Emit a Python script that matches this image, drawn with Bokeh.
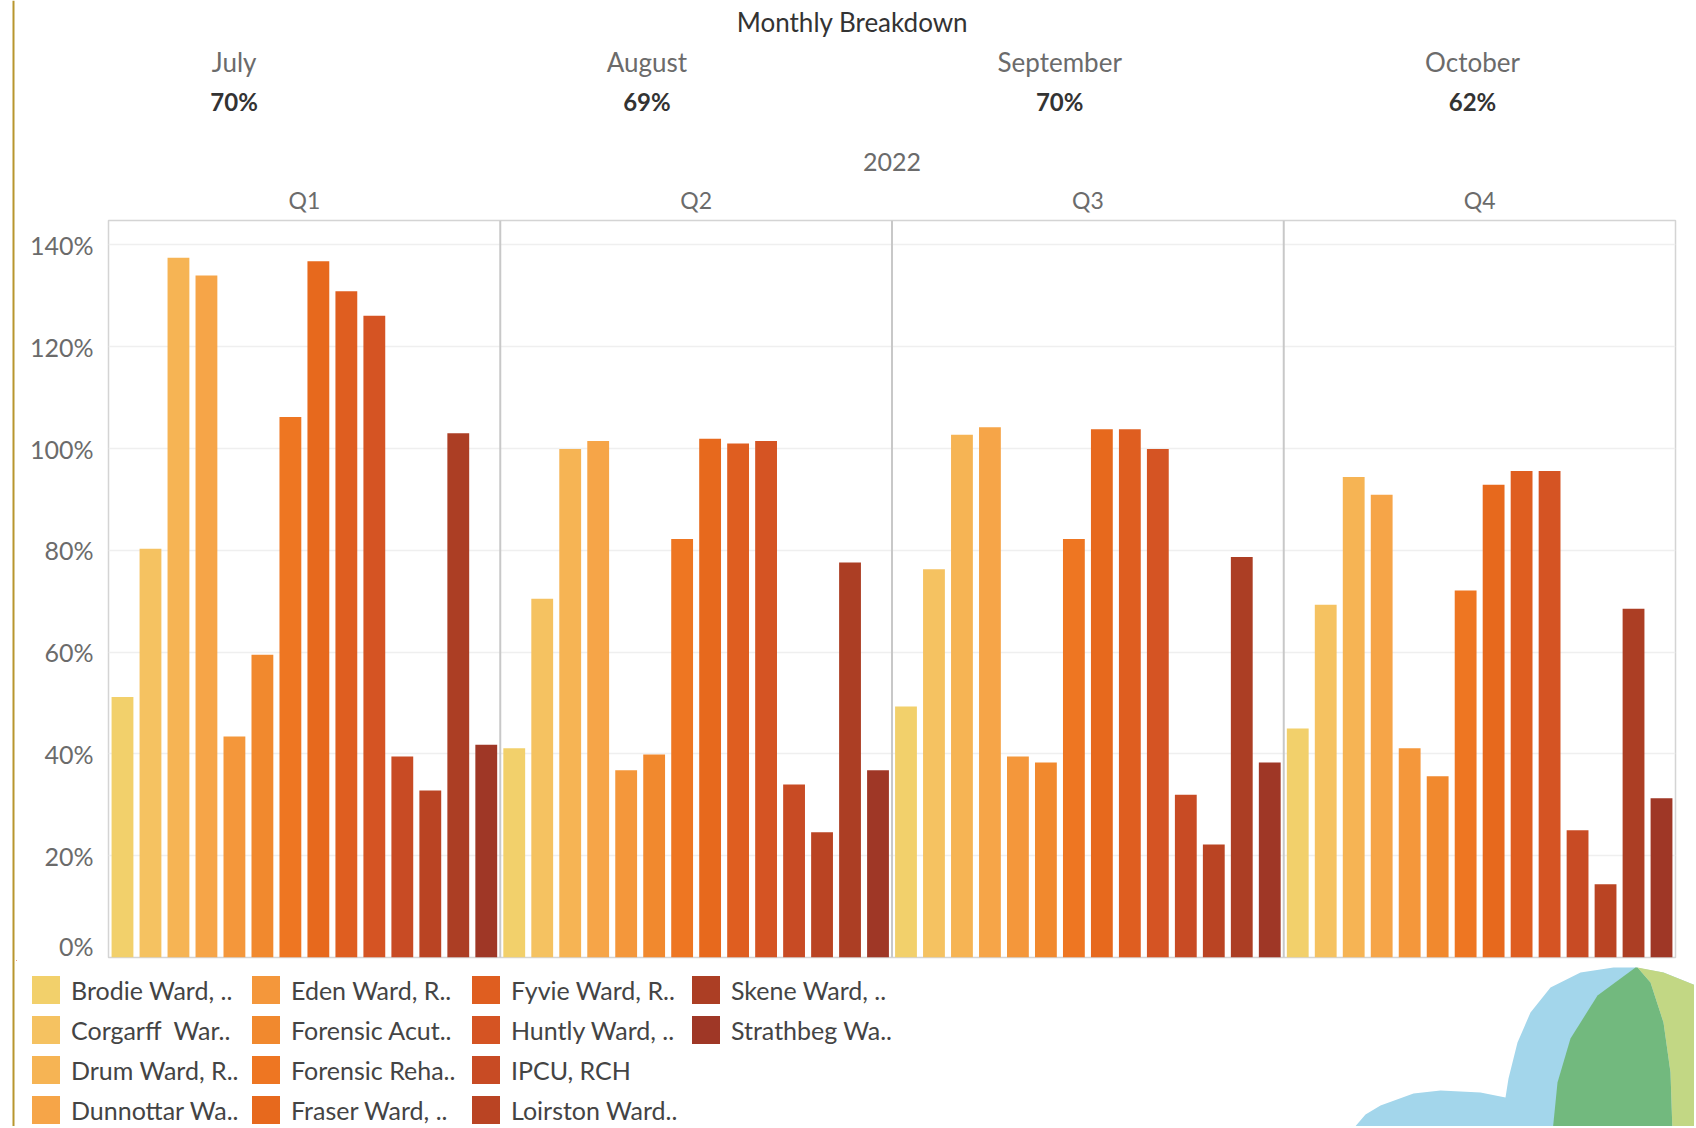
from bokeh.plotting import figure
from bokeh.layouts import row, column
from bokeh.models import (ColumnDataSource, FixedTicker, Span, Legend, LegendItem,
                          PrintfTickFormatter, Range1d)
from bokeh.core.properties import value
from bokeh.embed import file_html
from bokeh.resources import INLINE

# ---------------- data ----------------
quarters = ["Q1", "Q2", "Q3", "Q4"]
wards = ["Brodie Ward, ..", "Corgarff  War..", "Drum Ward, R..", "Dunnottar Wa..",
         "Eden Ward, R..", "Forensic Acut..", "Forensic Reha..", "Fraser Ward, ..",
         "Fyvie Ward, R..", "Huntly Ward, ..", "IPCU, RCH", "Loirston Ward..",
         "Skene Ward, ..", "Strathbeg Wa.."]
colors = ["#F2D06B", "#F5C261", "#F6B454", "#F6A548", "#F4973B", "#F1892E", "#EE7622",
          "#E7691D", "#DF5E20", "#D55423", "#C84B24", "#BA4423", "#AC3E24", "#9F3726"]
q1 = [51.2, 80.3, 137.5, 134.0, 43.4, 59.5, 106.2, 136.8, 130.9, 126.1, 39.5, 32.8, 103.0, 41.8]
q2 = [41.1, 70.5, 99.9, 101.5, 36.8, 39.9, 82.2, 101.9, 101.0, 101.5, 34.0, 24.6, 77.6, 36.8]
q3 = [49.3, 76.3, 102.7, 104.2, 39.5, 38.3, 82.2, 103.8, 103.8, 99.9, 32.0, 22.2, 78.7, 38.3]
q4 = [45.0, 69.3, 94.4, 90.9, 41.1, 35.6, 72.1, 92.9, 95.6, 95.6, 25.0, 14.4, 68.5, 31.3]
months = ["July", "August", "September", "October"]
month_pct = ["70%", "69%", "70%", "62%"]
year_label = "2022"
title_text = "Monthly Breakdown"
y_ticks = [0, 20, 40, 60, 80, 100, 120, 140]

FONT = "Lato"
GRAY = "#6B6B6B"
DARK = "#333333"
GOLD = "#B8962E"

series = [q1, q2, q3, q4]
n = len(wards)

X0 = 16          # left strip width (page x where the column starts)
W = 1678         # width of the content column
TOTAL_H = 1126
HEAD_H = 130
MAIN_H = 830
LEG_H = TOTAL_H - HEAD_H - MAIN_H


def bare(width, height, xr, yr):
    f = figure(width=width, height=height, x_range=xr, y_range=yr,
               x_axis_type=None, y_axis_type=None, output_backend="svg",
               toolbar_location=None, min_border=0, frame_align=False)
    f.outline_line_color = None
    f.grid.visible = False
    return f


# ---------------- left gold rule ----------------
strip = bare(X0, TOTAL_H, Range1d(0, X0), Range1d(TOTAL_H, 0))
strip.add_layout(Span(location=13, dimension="height", line_color=GOLD, line_width=2))

# ---------------- header (title + monthly breakdown) ----------------
head = bare(W, HEAD_H, Range1d(X0, X0 + W), Range1d(HEAD_H, 0))
head.text(x=[852], y=[21], text=[title_text], text_align="center", text_baseline="middle",
          text_font=value(FONT), text_font_size="26px", text_color=DARK)
month_x = [233.6 + 412.8 * k for k in range(len(months))]
head.text(x=month_x, y=[61] * len(months), text=months, text_align="center",
          text_baseline="middle", text_font=value(FONT), text_font_size="26px",
          text_color=GRAY)
head.text(x=month_x, y=[101] * len(months), text=month_pct, text_align="center",
          text_baseline="middle", text_font=value(FONT), text_font_size="24px",
          text_font_style="bold", text_color=DARK)

# ---------------- main bar chart ----------------
p = figure(width=W, height=MAIN_H, x_range=Range1d(0, n * len(quarters)),
           y_range=Range1d(0, 144.8), x_axis_location="above", output_backend="svg",
           toolbar_location=None, min_border_left=108 - X0, min_border_right=X0 + W - 1675,
           min_border_top=220 - HEAD_H, min_border_bottom=3, frame_align=False)
p.outline_line_color = "#D4D4D4"
p.outline_line_width = 1.5

for i, w in enumerate(wards):
    xs = [qi * n + i + 0.5 for qi in range(len(quarters))]
    tops = [s[i] for s in series]
    p.vbar(x="x", top="top", width=0.78, bottom=0,
           source=ColumnDataSource(dict(x=xs, top=tops)),
           fill_color=colors[i], line_color=None)

for qi in range(1, len(quarters)):
    p.add_layout(Span(location=qi * n, dimension="height", line_color="#C8C8C8", line_width=2))

p.yaxis.ticker = FixedTicker(ticks=y_ticks)
p.yaxis.formatter = PrintfTickFormatter(format="%d%%")
p.yaxis.major_label_text_font = FONT
p.yaxis.major_label_text_font_size = "25px"
p.yaxis.major_label_text_color = GRAY
p.yaxis.axis_line_color = None
p.yaxis.major_tick_line_color = None
p.yaxis.minor_tick_line_color = None
p.yaxis.major_tick_out = 0
p.yaxis.major_tick_in = 0
p.yaxis.major_label_standoff = 15

centers = [qi * n + n / 2 for qi in range(len(quarters))]
p.xaxis.ticker = FixedTicker(ticks=centers)
p.xaxis.major_label_overrides = {c: q for c, q in zip(centers, quarters)}
p.xaxis.major_label_text_font = FONT
p.xaxis.major_label_text_font_size = "23px"
p.xaxis.major_label_text_color = GRAY
p.xaxis.axis_line_color = None
p.xaxis.major_tick_line_color = None
p.xaxis.minor_tick_line_color = None
p.xaxis.major_tick_out = 0
p.xaxis.major_tick_in = 0
p.xaxis.major_label_standoff = 7
p.xaxis.axis_label = year_label
p.xaxis.axis_label_text_font = FONT
p.xaxis.axis_label_text_font_style = "normal"
p.xaxis.axis_label_text_font_size = "25px"
p.xaxis.axis_label_text_color = GRAY
p.xaxis.axis_label_standoff = 12

p.xgrid.visible = False
p.ygrid.grid_line_color = "#EFEFEF"
p.ygrid.grid_line_width = 1.5

# ---------------- legend + logo ----------------
LEG_Y0 = HEAD_H + MAIN_H
leg = bare(W, LEG_H, Range1d(X0, X0 + W), Range1d(TOTAL_H, LEG_Y0))

cloud = [(1350, 1132), (1353, 1128), (1365, 1114), (1380, 1105), (1413, 1093), (1440, 1090),
         (1480, 1092), (1505, 1097), (1508, 1078), (1517, 1042), (1530, 1012), (1550, 987),
         (1580, 972), (1613, 967), (1635, 967), (1663, 972), (1700, 987), (1700, 1132)]
leaf = [(1635, 967), (1597, 995), (1570, 1038), (1557, 1082), (1552, 1132),
        (1672, 1132), (1670, 1072), (1663, 1022), (1650, 982), (1637, 967)]
leaf2 = [(1637, 967), (1663, 972), (1700, 987), (1700, 1132), (1672, 1132),
         (1670, 1072), (1663, 1022), (1650, 982)]
shapes = [cloud, leaf, leaf2]
shape_colors = ["#A3D6EB", "#72B97E", "#C2D784"]
leg.patches(xs=[[x for x, _ in s] for s in shapes], ys=[[y for _, y in s] for s in shapes],
            fill_color=shape_colors, line_color=None)

# legend swatch renderers: one zero-width bar per ward (index lies left of the visible range)
items = []
for i, w in enumerate(wards):
    r = leg.vbar(x=[i], top=[q1[i]], bottom=0, width=0, fill_color=colors[i], line_color=None)
    items.append(LegendItem(label=w, renderers=[r]))

legend = Legend(items=items, orientation="vertical", nrows=4, location="top_left")
legend.margin = 12
legend.padding = 0
legend.spacing = 5
legend.glyph_width = 35
legend.glyph_height = 35
legend.label_height = 30
legend.label_width = 172
legend.label_standoff = 8
legend.label_text_font = FONT
legend.label_text_font_size = "25px"
legend.label_text_color = "#444444"
legend.border_line_color = None
legend.background_fill_alpha = 0
leg.add_layout(legend, "center")

layout = row(strip, column(head, p, leg))
open("out.html", "w").write(file_html(layout, INLINE))
